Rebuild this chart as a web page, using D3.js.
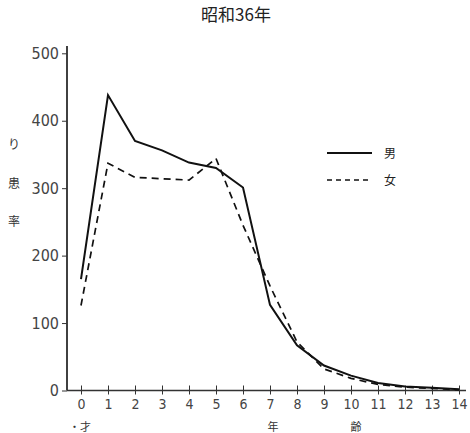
<!DOCTYPE html>
<html><head><meta charset="utf-8">
<script src="https://cdn.jsdelivr.net/npm/d3@7"></script>
<style>body{margin:0;background:#fff}</style>
</head><body>
<svg id="c" width="470" height="433"></svg>
<script>
const ages = [0,1,2,3,4,5,6,7,8,9,10,11,12,13,14];
const male =   [165,438,370,356,338,330,301,127,67,37,22,11,6,4,2];
const female = [126,337,316,314,312,344,245,155,72,32,18,9,5,3,1];
const yTicks = [0,100,200,300,400,500];
const title = "昭和36年";
const legendLabels = ["男","女"];

const svg = d3.select("#c");
const x = d3.scaleLinear().domain([0,14]).range([81,459]);
const y = d3.scaleLinear().domain([0,500]).range([390.5,53.3]);
const numFont = "'Liberation Sans Narrow','DejaVu Sans Condensed',sans-serif";
const cjk = "'Noto Sans CJK JP',sans-serif";

svg.append("text").attr("x",236).attr("y",21).attr("text-anchor","middle")
  .attr("font-family",cjk).attr("font-size",17).attr("fill","#222").text(title);

svg.append("line").attr("x1",67).attr("x2",67).attr("y1",46).attr("y2",390.5).attr("stroke","#111").attr("stroke-width",1.6);
svg.append("line").attr("x1",67).attr("x2",466).attr("y1",390.5).attr("y2",390.5).attr("stroke","#333").attr("stroke-width",1.3);

const yAxis = d3.axisLeft(y).tickValues(yTicks).tickSize(5).tickPadding(3);
const gy = svg.append("g").attr("transform","translate(67,0)").call(yAxis);
gy.select(".domain").remove();
gy.selectAll("text").attr("font-family",numFont).attr("font-size",16).attr("fill","#444");
gy.selectAll("line").attr("stroke","#333");

const xAxis = d3.axisBottom(x).tickValues(ages).tickSize(4).tickPadding(5);
const gx = svg.append("g").attr("transform","translate(0,390.5)").call(xAxis);
gx.select(".domain").remove();
gx.selectAll("line").attr("y1",-5).attr("stroke","#333");
gx.selectAll("text").attr("font-family",numFont).attr("font-size",14).attr("fill","#444");

const lineGen = d3.line().x((d,i)=>x(ages[i])).y(d=>y(d));
svg.append("path").datum(male).attr("d",lineGen).attr("fill","none").attr("stroke","#111").attr("stroke-width",2);
svg.append("path").datum(female).attr("d",lineGen).attr("fill","none").attr("stroke","#111").attr("stroke-width",1.7).attr("stroke-dasharray","7,5");

svg.append("line").attr("x1",327).attr("x2",372).attr("y1",153).attr("y2",153).attr("stroke","#111").attr("stroke-width",1.8);
svg.append("line").attr("x1",327).attr("x2",372).attr("y1",180).attr("y2",180).attr("stroke","#111").attr("stroke-width",1.6).attr("stroke-dasharray","5,4");
svg.append("text").attr("x",384).attr("y",158).attr("font-family",cjk).attr("font-size",12).attr("fill","#222").text(legendLabels[0]);
svg.append("text").attr("x",384).attr("y",185).attr("font-family",cjk).attr("font-size",12).attr("fill","#222").text(legendLabels[1]);

const yLab = ["り","患","率"];
const yLabY = [149,188,226];
yLab.forEach((t,i)=>svg.append("text").attr("x",14).attr("y",yLabY[i]).attr("text-anchor","middle")
  .attr("font-family",cjk).attr("font-size",12).attr("fill","#333").text(t));
const xLab = [["・才",80],["年",273],["齢",356]];
xLab.forEach(([t,px])=>svg.append("text").attr("x",px).attr("y",431).attr("text-anchor","middle")
  .attr("font-family",cjk).attr("font-size",11).attr("fill","#333").text(t));
</script>
</body></html>
